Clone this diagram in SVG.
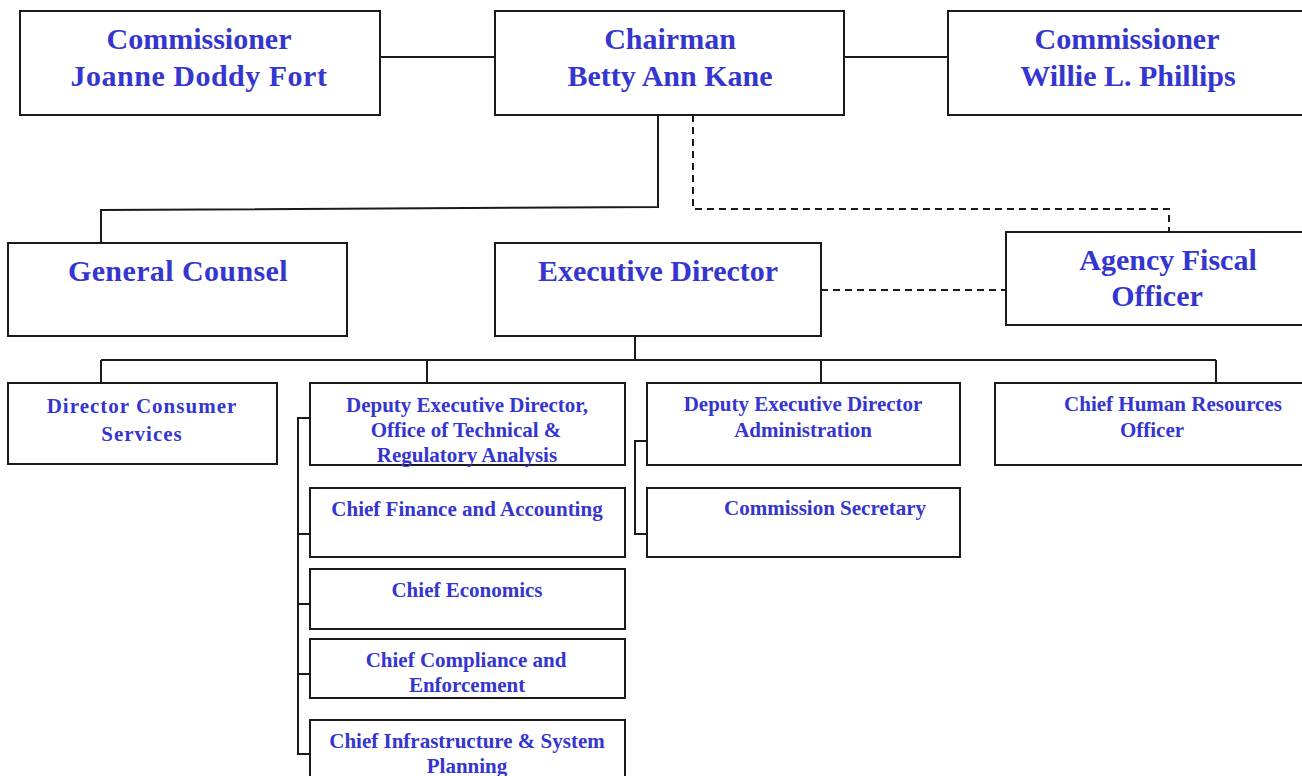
<svg xmlns="http://www.w3.org/2000/svg" width="1302" height="776" viewBox="0 0 1302 776">
<style>
.box{fill:#fff;stroke:#1a1a1a;stroke-width:2}
.ln{fill:none;stroke:#1a1a1a;stroke-width:2}
.dash{fill:none;stroke:#1a1a1a;stroke-width:2;stroke-dasharray:7,5}
text{font-family:'Liberation Serif','Times New Roman',Times,'DejaVu Serif',serif;font-weight:700;fill:#3535cf;text-anchor:middle}
.big{font-size:30px}
.sm{font-size:21px}
</style>
<rect width="1302" height="776" fill="#fff"/>
<g id="connectors">
<line class="ln" x1="380" y1="57" x2="495" y2="57"/>
<line class="ln" x1="844" y1="57" x2="948" y2="57"/>
<polyline class="ln" points="658,115 658,207 101,210 101,243"/>
<polyline class="dash" points="693,115 693,209 1169,209 1169,232"/>
<line class="dash" x1="821" y1="290" x2="1006" y2="290"/>
<line class="ln" x1="635" y1="336" x2="635" y2="360"/>
<line class="ln" x1="101" y1="360" x2="1216" y2="360"/>
<line class="ln" x1="101" y1="360" x2="101" y2="383"/>
<line class="ln" x1="427" y1="360" x2="427" y2="383"/>
<line class="ln" x1="821" y1="360" x2="821" y2="383"/>
<line class="ln" x1="1216" y1="360" x2="1216" y2="383"/>
<polyline class="ln" points="312,418 298,418 298,754 312,754"/>
<line class="ln" x1="298" y1="534" x2="312" y2="534"/>
<line class="ln" x1="298" y1="604" x2="312" y2="604"/>
<line class="ln" x1="298" y1="674" x2="312" y2="674"/>
<polyline class="ln" points="648,441 635,441 635,534 648,534"/>
</g>
<g id="comm-fort"><rect class="box" x="20" y="11" width="360" height="104"/>
<text class="big" x="199" y="49">Commissioner</text><text class="big" x="199" y="86" letter-spacing="0.5">Joanne Doddy Fort</text></g>
<g id="chairman"><rect class="box" x="495" y="11" width="349" height="104"/>
<text class="big" x="670" y="49">Chairman</text><text class="big" x="670" y="86">Betty Ann Kane</text></g>
<g id="comm-phillips"><rect class="box" x="948" y="11" width="364" height="104"/>
<text class="big" x="1127" y="49">Commissioner</text><text class="big" x="1128" y="86">Willie L. Phillips</text></g>
<g id="general-counsel"><rect class="box" x="8" y="243" width="339" height="93"/>
<text class="big" x="178" y="281" letter-spacing="0.4">General Counsel</text></g>
<g id="executive-director"><rect class="box" x="495" y="243" width="326" height="93"/>
<text class="big" x="658" y="281">Executive Director</text></g>
<g id="fiscal-officer"><rect class="box" x="1006" y="232" width="306" height="93"/>
<text class="big" x="1168" y="270">Agency Fiscal</text><text class="big" x="1157" y="306">Officer</text></g>
<g id="consumer-services"><rect class="box" x="8" y="383" width="269" height="81"/>
<text class="sm" x="142" y="413" letter-spacing="1">Director Consumer</text><text class="sm" x="142" y="441" letter-spacing="1">Services</text></g>
<g id="deputy-otra"><rect class="box" x="310" y="383" width="315" height="82"/>
<text class="sm" x="467" y="412">Deputy Executive Director,</text><text class="sm" x="466" y="437">Office of Technical &amp;</text><text class="sm" x="467" y="462">Regulatory Analysis</text></g>
<g id="chief-finance"><rect class="box" x="310" y="488" width="315" height="69"/>
<text class="sm" x="467" y="516">Chief Finance and Accounting</text></g>
<g id="chief-economics"><rect class="box" x="310" y="569" width="315" height="60"/>
<text class="sm" x="467" y="597">Chief Economics</text></g>
<g id="chief-compliance"><rect class="box" x="310" y="639" width="315" height="59"/>
<text class="sm" x="466" y="667">Chief Compliance and</text><text class="sm" x="467" y="692">Enforcement</text></g>
<g id="chief-infrastructure"><rect class="box" x="310" y="720" width="315" height="70"/>
<text class="sm" x="467" y="748">Chief Infrastructure &amp; System</text><text class="sm" x="467" y="773">Planning</text></g>
<g id="deputy-admin"><rect class="box" x="647" y="383" width="313" height="82"/>
<text class="sm" x="803" y="411">Deputy Executive Director</text><text class="sm" x="803" y="437">Administration</text></g>
<g id="commission-secretary"><rect class="box" x="647" y="488" width="313" height="69"/>
<text class="sm" x="825" y="515">Commission Secretary</text></g>
<g id="chief-hr"><rect class="box" x="995" y="383" width="317" height="82"/>
<text class="sm" x="1173" y="411">Chief Human Resources</text><text class="sm" x="1152" y="437">Officer</text></g>
</svg>
